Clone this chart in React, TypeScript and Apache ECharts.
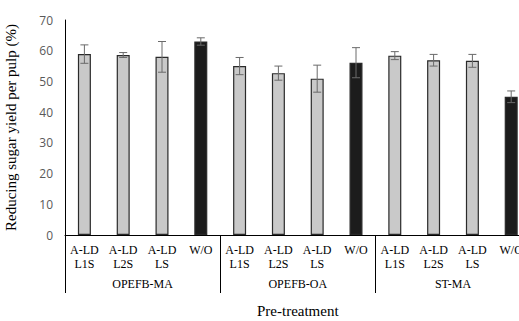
import React, { useEffect, useRef } from "react";
import * as echarts from "echarts";

const categories = [
  "A-LD\nL1S", "A-LD\nL2S", "A-LD\nLS", "W/O",
  "A-LD\nL1S", "A-LD\nL2S", "A-LD\nLS", "W/O",
  "A-LD\nL1S", "A-LD\nL2S", "A-LD\nLS", "W/O",
];
const groups = ["OPEFB-MA", "OPEFB-OA", "ST-MA"];
const yieldValues = [58.9, 58.6, 58.0, 63.0, 55.0, 52.7, 50.9, 56.1, 58.4, 56.9, 56.7, 45.0];
const errorValues = [3.0, 0.8, 5.0, 1.2, 2.8, 2.3, 4.4, 4.9, 1.3, 1.9, 2.1, 1.9];
const yTicks = { min: 0, max: 70, interval: 10 };

export default function App() {
  const ref = useRef<HTMLDivElement>(null);
  useEffect(() => {
    if (!ref.current) return;
    const chart = echarts.init(ref.current, null, { renderer: "svg" });
    const serif = "'Liberation Serif', 'Times New Roman', serif";
    chart.setOption({
      animation: false,
      grid: {
        left: 65, top: 20, height: 215, width: 465.6,
        containLabel: false, outerBoundsMode: "none",
      },
      xAxis: [
        {
          type: "category",
          data: categories,
          axisLine: { show: true, lineStyle: { color: "#000", width: 1 } },
          axisTick: { show: false },
          axisLabel: {
            interval: 0,
            margin: 8,
            fontFamily: serif,
            fontSize: 12,
            lineHeight: 14,
            color: "#000",
          },
        },
        {
          type: "category",
          data: groups,
          position: "bottom",
          axisLine: { show: false },
          axisTick: { show: true, length: 58, lineStyle: { color: "#000", width: 1 } },
          axisLabel: { margin: 43, fontFamily: serif, fontSize: 12, color: "#000" },
          name: "Pre-treatment",
          nameLocation: "middle",
          nameGap: 68,
          nameTextStyle: { fontFamily: serif, fontSize: 15, color: "#000" },
        },
      ],
      yAxis: {
        type: "value",
        min: yTicks.min,
        max: yTicks.max,
        interval: yTicks.interval,
        axisLine: { show: true, lineStyle: { color: "#000", width: 1 } },
        axisTick: { show: false },
        splitLine: { show: false },
        axisLabel: { margin: 12, fontFamily: "'Open Sans', sans-serif", fontSize: 12, color: "#595959" },
        name: "Reducing sugar yield per pulp (%)",
        nameLocation: "middle",
        nameRotate: 90,
        nameGap: 47,
        nameTextStyle: { fontFamily: serif, fontSize: 15, color: "#000" },
      },
      series: [
        {
          type: "bar",
          xAxisIndex: 0,
          barWidth: 13,
          data: yieldValues.map((v, i) => ({
            value: v,
            itemStyle: {
              color: categories[i] === "W/O" ? "#1c1c1c" : "#c9c9c9",
              borderColor: "#2a2a2a",
              borderWidth: 1.2,
            },
          })),
        },
        {
          type: "custom",
          xAxisIndex: 0,
          data: yieldValues.map((v, i) => [i, v, errorValues[i]]),
          z: 5,
          renderItem: (params: any, api: any) => {
            const x = api.value(0);
            const v = api.value(1);
            const e = api.value(2);
            const top = api.coord([x, v + e]);
            const bot = api.coord([x, v - e]);
            const hw = 4;
            const style = { stroke: "#6a6a6a", lineWidth: 1 };
            return {
              type: "group",
              children: [
                { type: "line", shape: { x1: top[0], y1: top[1], x2: bot[0], y2: bot[1] }, style },
                { type: "line", shape: { x1: top[0] - hw, y1: top[1], x2: top[0] + hw, y2: top[1] }, style },
                { type: "line", shape: { x1: bot[0] - hw, y1: bot[1], x2: bot[0] + hw, y2: bot[1] }, style },
              ],
            };
          },
        },
      ],
    });
    return () => chart.dispose();
  }, []);
  return (
    <div
      ref={ref}
      style={{ position: "fixed", left: 0, top: 0, width: 519, height: 321, background: "#fff" }}
    />
  );
}
